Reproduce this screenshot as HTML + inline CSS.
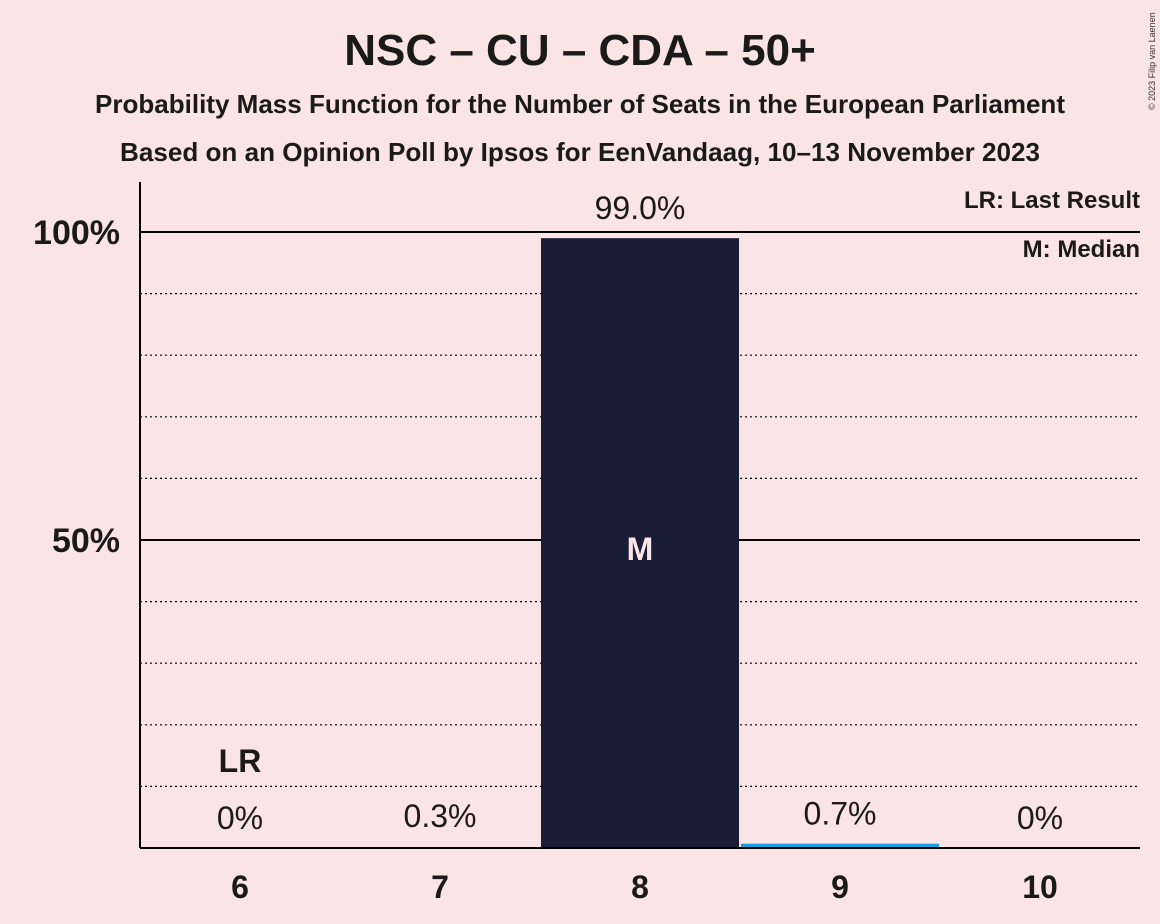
<!DOCTYPE html>
<html><head><meta charset="utf-8"><style>
body{margin:0;background:#fbe4e6;font-family:"Liberation Sans",sans-serif}
svg{display:block}
</style></head><body>
<svg width="1160" height="924">
<rect width="1160" height="924" fill="#fbe4e6"/>
<text x="580" y="65" text-anchor="middle" font-size="44" font-weight="bold" fill="#1a1a1a">NSC – CU – CDA – 50+</text>
<text x="580" y="113" text-anchor="middle" font-size="26" font-weight="bold" fill="#1a1a1a" textLength="970" lengthAdjust="spacingAndGlyphs">Probability Mass Function for the Number of Seats in the European Parliament</text>
<text x="580" y="161" text-anchor="middle" font-size="26" font-weight="bold" fill="#1a1a1a" textLength="920" lengthAdjust="spacingAndGlyphs">Based on an Opinion Poll by Ipsos for EenVandaag, 10–13 November 2023</text>
<text x="1155" y="110" font-size="9" fill="#333" transform="rotate(-90 1155 110)">© 2023 Filip van Laenen</text>
<g id="grid"></g>
<g id="bars"></g>
<g id="labels"></g>
<line x1="140" y1="182" x2="140" y2="848" stroke="#000" stroke-width="2"/>
<line x1="140" y1="848" x2="1140" y2="848" stroke="#000" stroke-width="2"/>
<text x="1140" y="208" text-anchor="end" font-size="24" font-weight="bold" fill="#1a1a1a">LR: Last Result</text>
<text x="1140" y="257" text-anchor="end" font-size="24" font-weight="bold" fill="#1a1a1a">M: Median</text>
</svg>
<script>
const categories=[6,7,8,9,10];
const values=[0,0.3,99.0,0.7,0];
const valueLabels=["0%","0.3%","99.0%","0.7%","0%"];
const lastResult=6;
const median=8;
const yTicks=[50,100];
const yTickLabels=["50%","100%"];
const ns="http://www.w3.org/2000/svg";
function y(v){return 848-v*6.16;}
function x(c){return 240+(c-6)*200;}
function mk(tag,attrs,parent,txt){const e=document.createElementNS(ns,tag);for(const k in attrs)e.setAttribute(k,attrs[k]);if(txt!==undefined)e.textContent=txt;document.getElementById(parent).appendChild(e);return e;}
for(let g=10;g<100;g+=10){if(g===50)continue;
 const l=mk('line',{x1:140,x2:1140,y1:y(g),y2:y(g),stroke:'#000','stroke-width':1.2,'stroke-dasharray':'2,3'},'grid');
 
 }
yTicks.forEach((t,i)=>{
 const l=mk('line',{x1:140,x2:1140,y1:y(t),y2:y(t),stroke:'#000','stroke-width':2},'grid');
 
 
 const tx=mk('text',{x:120,y:y(t)+12,'text-anchor':'end','font-size':34,'font-weight':'bold',fill:'#1a1a1a'},'grid',yTickLabels[i]);
 
 });
categories.forEach((c,i)=>{
 const v=values[i];const top=y(v);
 if(v>=0.5){const isMed=c===median;
  const r=mk('rect',{x:x(c)-99,y:top,width:198,height:848-top,fill:v>5?'#1a1d36':'#1a9ee0'},'bars');
  
  
  if(isMed){const m=mk('text',{x:x(c),y:y(v/2)+17,'text-anchor':'middle','font-size':32,'font-weight':'bold',fill:'#fbe4e6'},'labels','M');
   
   }}
 const lb=mk('text',{x:x(c),y:top-19,'text-anchor':'middle','font-size':32,fill:'#1a1a1a'},'labels',valueLabels[i]);
 
 
 const xt=mk('text',{x:x(c),y:898,'text-anchor':'middle','font-size':32,'font-weight':'bold',fill:'#1a1a1a'},'labels',String(c));
 
 
 if(c===lastResult){const lr=mk('text',{x:x(c),y:772,'text-anchor':'middle','font-size':32,'font-weight':'bold',fill:'#1a1a1a'},'labels','LR');
  
  }
});
</script>
</body></html>
